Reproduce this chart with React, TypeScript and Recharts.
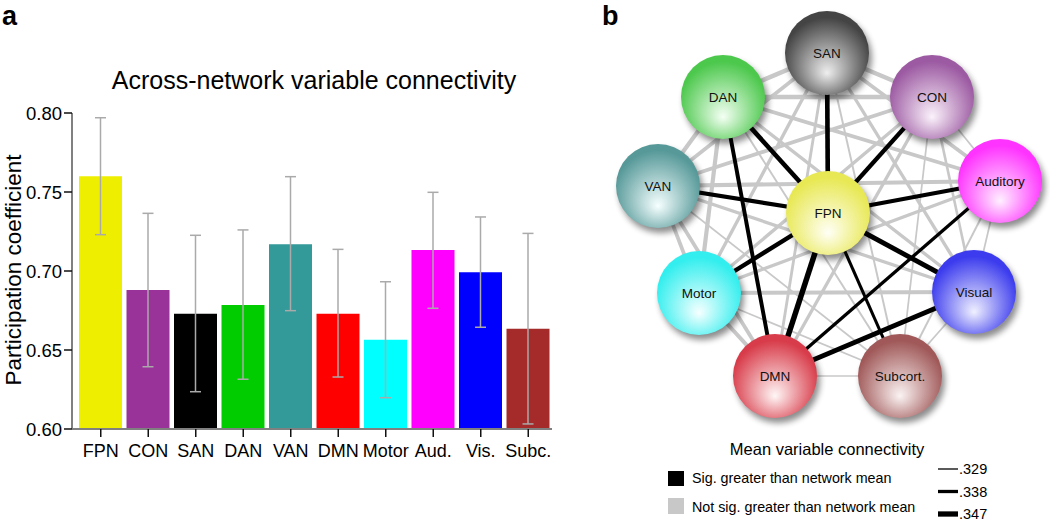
import React from 'react';
import {
  BarChart,
  Bar,
  XAxis,
  YAxis,
  ErrorBar,
  Cell,
  ScatterChart,
  Scatter,
  ReferenceLine,
} from 'recharts';

const FONT = '"Liberation Sans", Arial, Helvetica, sans-serif';

// ---------- Panel a: data ----------
const categories = ['FPN', 'CON', 'SAN', 'DAN', 'VAN', 'DMN', 'Motor', 'Aud.', 'Vis.', 'Subc.'];
const means = [0.76, 0.688, 0.673, 0.6785, 0.717, 0.673, 0.6565, 0.7133, 0.6992, 0.6635];
const lowerBounds = [0.723, 0.6394, 0.6236, 0.6315, 0.6749, 0.6329, 0.6198, 0.6764, 0.6644, 0.6032];
const upperBounds = [0.797, 0.7365, 0.7226, 0.726, 0.7597, 0.7137, 0.6932, 0.7498, 0.7342, 0.7238];
const barColors = ['#EEEE00', '#993399', '#000000', '#00CC00', '#339999', '#FF0000', '#00FFFF', '#FF00FF', '#0000FF', '#A52A2A'];
const yTicks = [0.6, 0.65, 0.7, 0.75, 0.8];

// ---------- Panel b: data ----------
const nodeNames = ['SAN', 'DAN', 'CON', 'VAN', 'Auditory', 'FPN', 'Motor', 'Visual', 'DMN', 'Subcort.'];
const nodeLayoutX = [-1, -105, 104, -170, 172, 0, -129, 146, -53, 72];
const nodeLayoutY = [160, 116, 116, 27, 32, 0, -80, -79, -163, -163];
const nodeRim = ['#444444', '#4cc84c', '#9c5aa2', '#579999', '#ff33ff', '#e8e855', '#33eeee', '#3c3cee', '#d83c4a', '#a05858'];
const nodeCore = ['#eeeeee', '#f4fff4', '#fbf2fb', '#f6ffff', '#fff0ff', '#fffff6', '#f6ffff', '#f0f0ff', '#fff6f6', '#fbf3f3'];

// significant (black) edges: [from, to, mean variable connectivity]
const sigEdges: [string, string, number][] = [
  ['FPN', 'SAN', 0.344],
  ['FPN', 'DAN', 0.344],
  ['FPN', 'CON', 0.342],
  ['FPN', 'VAN', 0.342],
  ['FPN', 'Auditory', 0.342],
  ['FPN', 'Motor', 0.343],
  ['FPN', 'Visual', 0.345],
  ['FPN', 'DMN', 0.348],
  ['FPN', 'Subcort.', 0.337],
  ['DAN', 'DMN', 0.341],
  ['Auditory', 'DMN', 0.338],
  ['Visual', 'DMN', 0.344],
];
// non-significant (gray) edges
const otherEdges: [string, string, number][] = [
  ['SAN', 'DAN', 0.343],
  ['SAN', 'CON', 0.343],
  ['SAN', 'VAN', 0.34],
  ['SAN', 'Auditory', 0.34],
  ['SAN', 'Motor', 0.338],
  ['SAN', 'Visual', 0.338],
  ['SAN', 'DMN', 0.336],
  ['SAN', 'Subcort.', 0.332],
  ['DAN', 'CON', 0.343],
  ['DAN', 'VAN', 0.342],
  ['DAN', 'Auditory', 0.34],
  ['DAN', 'Motor', 0.342],
  ['DAN', 'Visual', 0.338],
  ['DAN', 'Subcort.', 0.332],
  ['CON', 'VAN', 0.34],
  ['CON', 'Auditory', 0.331],
  ['CON', 'Motor', 0.338],
  ['CON', 'Visual', 0.335],
  ['CON', 'DMN', 0.338],
  ['CON', 'Subcort.', 0.331],
  ['VAN', 'Auditory', 0.342],
  ['VAN', 'Motor', 0.34],
  ['VAN', 'Visual', 0.338],
  ['VAN', 'DMN', 0.34],
  ['VAN', 'Subcort.', 0.331],
  ['Auditory', 'Motor', 0.338],
  ['Auditory', 'Visual', 0.331],
  ['Auditory', 'Subcort.', 0.332],
  ['Motor', 'Visual', 0.342],
  ['Motor', 'DMN', 0.341],
  ['Motor', 'Subcort.', 0.331],
  ['Visual', 'Subcort.', 0.331],
  ['DMN', 'Subcort.', 0.331],
];
const legendWeights = [0.329, 0.338, 0.347];

// ---------- derived ----------
const barData = categories.map((name, i) => ({
  name,
  value: means[i],
  err: [means[i] - lowerBounds[i], upperBounds[i] - means[i]],
}));

const nodes = nodeNames.map((name, i) => ({
  name,
  x: nodeLayoutX[i],
  y: nodeLayoutY[i],
  rim: nodeRim[i],
  core: nodeCore[i],
  idx: i,
}));
const nodeByName: Record<string, { x: number; y: number }> = {};
nodes.forEach((n) => (nodeByName[n.name] = n));

const edgeWidth = (v: number) => 1.3 + (v - 0.329) * 222;

const NODE_R = 42;

const NodeShape = (props: any) => {
  const { cx, cy, payload } = props;
  if (cx == null || cy == null) return null;
  const gid = `ng${payload.idx}`;
  const fid = `nf${payload.idx}`;
  return (
    <g>
      <defs>
        <radialGradient id={gid} cx="50%" cy="58%" r="62%" fx="50%" fy="74%">
          <stop offset="0%" stopColor={payload.core} />
          <stop offset="85%" stopColor={payload.rim} />
          <stop offset="100%" stopColor={payload.rim} />
        </radialGradient>
        <filter id={fid} x="-30%" y="-30%" width="170%" height="170%">
          <feGaussianBlur stdDeviation="3" />
        </filter>
      </defs>
      <circle cx={cx + 3} cy={cy + 5} r={NODE_R} fill="#000" opacity={0.45} filter={`url(#${fid})`} />
      <circle cx={cx} cy={cy} r={NODE_R} fill={`url(#${gid})`} />
      <text
        x={cx}
        y={cy}
        textAnchor="middle"
        dominantBaseline="central"
        fontFamily={FONT}
        fontSize={13.5}
        fill="#111"
      >
        {payload.name}
      </text>
    </g>
  );
};

export default function App() {
  return (
    <div style={{ position: 'absolute', left: 0, top: 0, width: 1050, height: 522, background: '#fff', fontFamily: FONT }}>
      <div style={{ position: 'absolute', left: 0, top: 0 }}>
        <BarChart
          width={560}
          height={522}
          data={barData}
          margin={{ top: 113, right: 8, bottom: 63, left: 0 }}
        >
          <XAxis
            dataKey="name"
            interval={0}
            height={30}
            padding={{ left: 5, right: 0 }}
            axisLine={{ stroke: '#808080', strokeWidth: 2 }}
            tickLine={{ stroke: '#111', strokeWidth: 1.5 }}
            tickSize={8}
            tickMargin={7}
            tick={{ fontSize: 18, fill: '#000', fontFamily: FONT }}
          />
          <YAxis
            type="number"
            domain={[0.6, 0.8]}
            ticks={yTicks}
            width={72}
            allowDataOverflow
            axisLine={{ stroke: '#808080', strokeWidth: 2 }}
            tickLine={{ stroke: '#111', strokeWidth: 1.5 }}
            tickSize={8}
            tickMargin={2}
            tickFormatter={(v: number) => v.toFixed(2)}
            tick={{ fontSize: 18.5, fill: '#000', fontFamily: FONT }}
          />
          <Bar dataKey="value" barSize={43} isAnimationActive={false}>
            {barData.map((d, i) => (
              <Cell key={d.name} fill={barColors[i]} />
            ))}
            <ErrorBar dataKey="err" width={5.5} stroke="#aaaaaa" strokeWidth={1.5} isAnimationActive={false} />
          </Bar>
        </BarChart>
      </div>

      <div style={{ position: 'absolute', left: 590, top: 0 }}>
        <ScatterChart width={460} height={522} margin={{ top: 0, right: 0, bottom: 0, left: 0 }}>
          <XAxis type="number" dataKey="x" domain={[-238, 222]} hide allowDataOverflow />
          <YAxis type="number" dataKey="y" domain={[-309, 213]} hide allowDataOverflow />
          {otherEdges.map(([a, b, v]) => (
            <ReferenceLine
              key={`g-${a}-${b}`}
              segment={[
                { x: nodeByName[a].x, y: nodeByName[a].y },
                { x: nodeByName[b].x, y: nodeByName[b].y },
              ]}
              stroke="#c8c8c8"
              strokeWidth={edgeWidth(v)}
              ifOverflow="visible"
            />
          ))}
          {sigEdges.map(([a, b, v]) => (
            <ReferenceLine
              key={`k-${a}-${b}`}
              segment={[
                { x: nodeByName[a].x, y: nodeByName[a].y },
                { x: nodeByName[b].x, y: nodeByName[b].y },
              ]}
              stroke="#000"
              strokeWidth={edgeWidth(v)}
              ifOverflow="visible"
            />
          ))}
          <Scatter data={nodes} shape={NodeShape} isAnimationActive={false} />
        </ScatterChart>
      </div>

      <svg
        width={1050}
        height={522}
        style={{ position: 'absolute', left: 0, top: 0, pointerEvents: 'none' }}
        fontFamily={FONT}
      >
        <text x={2} y={25} fontSize={27} fontWeight="bold" fill="#000">a</text>
        <text x={602} y={25} fontSize={27} fontWeight="bold" fill="#000">b</text>
        <text x={314} y={89} fontSize={25} textAnchor="middle" fill="#000">
          Across-network variable connectivity
        </text>
        <text x={20.5} y={270} fontSize={22.5} textAnchor="middle" fill="#000" transform="rotate(-90, 20.5, 270)">
          Participation coefficient
        </text>

        <text x={827} y={455} fontSize={16.5} textAnchor="middle" fill="#000">
          Mean variable connectivity
        </text>
        <rect x={668} y={471} width={16} height={15} fill="#000" />
        <text x={692} y={483} fontSize={14.3} fill="#000">Sig. greater than network mean</text>
        <rect x={668} y={498} width={16} height={16} fill="#c8c8c8" />
        <text x={692} y={512} fontSize={14.3} fill="#000">Not sig. greater than network mean</text>
        {legendWeights.map((w, i) => (
          <g key={w}>
            <line x1={938} x2={958} y1={469 + i * 22.5} y2={469 + i * 22.5} stroke="#000" strokeWidth={edgeWidth(w)} />
            <text x={959} y={474 + i * 22.5} fontSize={14.5} fill="#000">
              {w.toFixed(3).replace(/^0/, '')}
            </text>
          </g>
        ))}
      </svg>
    </div>
  );
}
